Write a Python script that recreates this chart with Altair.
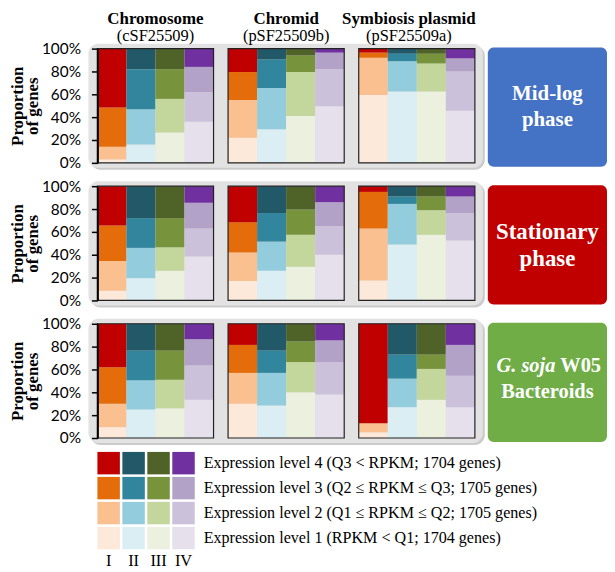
import altair as alt
import pandas as pd

SERIF = "Liberation Serif"
SANS = "Lato"

replicons = ["Chromosome", "Chromid", "Symbiosis plasmid"]
replicon_ids = ["(cSF25509)", "(pSF25509b)", "(pSF25509a)"]
categories = ["I", "II", "III", "IV"]
levels = [1, 2, 3, 4]

# Percent of genes at expression level [1, 2, 3, 4] for categories I, II, III, IV
midlog_chromosome = [[3, 11, 34.5, 51.5], [16, 31, 35, 18], [26.5, 29.5, 26, 18], [36, 26, 22, 16]]
midlog_chromid = [[22, 33, 24.5, 20.5], [29.5, 36, 25, 9.5], [41, 38.5, 14.5, 6], [49.5, 32.5, 14.5, 3.5]]
midlog_symbiosis = [[59.5, 32.5, 4.5, 3.5], [62.5, 26.5, 6.5, 4.5], [62.5, 24.5, 8.5, 4.5], [45.5, 34.5, 11.5, 8.5]]

stationary_chromosome = [[8.5, 26, 31, 34.5], [19.5, 26.5, 26, 28], [26, 20.5, 25.5, 28], [38.5, 24.5, 22.5, 14.5]]
stationary_chromid = [[17, 25, 26.5, 31.5], [26, 25.5, 25, 23.5], [29.5, 28, 22, 20.5], [40, 25, 21, 14]]
stationary_symbiosis = [[17.5, 45.5, 32, 5], [49, 35.5, 6.5, 9], [57.5, 21.5, 12, 9], [52.5, 24, 14.5, 9]]

bacteroid_chromosome = [[9.5, 20.5, 32, 38], [25, 25.5, 26, 23.5], [26, 25, 25.5, 23.5], [33.5, 30, 23, 13.5]]
bacteroid_chromid = [[30, 27, 24.5, 18.5], [28.5, 28.5, 19.5, 23.5], [40, 26.5, 18, 15.5], [38, 28.5, 19, 14.5]]
bacteroid_symbiosis = [[5, 8, 0, 87], [27, 25, 21, 27], [33.5, 27, 12.5, 27], [27, 27.5, 27, 18.5]]

conditions = [
    [midlog_chromosome, midlog_chromid, midlog_symbiosis],
    [stationary_chromosome, stationary_chromid, stationary_symbiosis],
    [bacteroid_chromosome, bacteroid_chromid, bacteroid_symbiosis],
]

palette = {
    "I": ["#FDE9D9", "#FAC090", "#E46C0A", "#C00000"],
    "II": ["#DBEEF4", "#93CDDD", "#31859C", "#215968"],
    "III": ["#EBF1DE", "#C3D69B", "#77933C", "#4F6228"],
    "IV": ["#E6E0EC", "#CCC1DA", "#B3A2C7", "#7030A0"],
}
color_keys = [f"{c}{l}" for c in categories for l in levels]
color_range = [palette[c][l - 1] for c in categories for l in levels]
color_scale = alt.Scale(domain=color_keys, range=color_range)

box_colors = ["#4472C4", "#C00000", "#70AD47"]

legend_labels = [
    "Expression level 1 (RPKM < Q1; 1704 genes)",
    "Expression level 2 (Q1 \u2264 RPKM \u2264  Q2; 1705 genes)",
    "Expression level 3 (Q2 \u2264 RPKM \u2264 Q3; 1705 genes)",
    "Expression level 4 (Q3 < RPKM; 1704 genes)",
]
y_ticks = [0, 0.2, 0.4, 0.6, 0.8, 1.0]

W, H = 380, 115
STEP = 4.5  # 4 bars + half-bar gap per panel
NSLOT = 3 * 4 + 2 * 0.5
ROW_GAP = 23.5
LEG = 98
LEG_SHIFT = -9.5  # legend sits closer to the last row than the row gap

xscale = alt.Scale(domain=[0, NSLOT], nice=False, zero=False)
yscale = alt.Scale(domain=[0, 1], nice=False)
one = pd.DataFrame({"a": [0]})

yaxis = alt.Axis(
    values=y_ticks, format=".0%", labelFont=SANS, labelFontSize=15.5, labelColor="black",
    labelOverlap=False, labelBound=False, labelFlush=False, tickColor="black", tickSize=6,
    tickWidth=1.5, domainColor="black", domainWidth=2, labelPadding=11, grid=False,
    title=["Proportion", "of genes"], titleFont=SERIF, titleFontSize=17,
    titleFontWeight="bold", titleColor="black", titleLineHeight=15, titlePadding=0, zindex=1,
)


def row_chart(ci, header=False):
    recs = []
    for ri, rep_vals in enumerate(conditions[ci]):
        for k, cat in enumerate(categories):
            for li, lev in enumerate(levels):
                recs.append(dict(rep=ri, cat=k, level=lev, value=rep_vals[k][li], key=f"{cat}{lev}"))
    df = pd.DataFrame(recs)

    shadow = alt.Chart(one).mark_rect(cornerRadius=10, color="#CBCBCB").encode(
        x=alt.value(-7), x2=alt.value(W + 10), y=alt.value(-3), y2=alt.value(H + 7))
    bg = alt.Chart(one).mark_rect(cornerRadius=10, color="#E2E2E2").encode(
        x=alt.value(-9), x2=alt.value(W + 8), y=alt.value(-5), y2=alt.value(H + 5))

    bars = (
        alt.Chart(df)
        .transform_joinaggregate(total="sum(value)", groupby=["rep", "cat"])
        .transform_calculate(frac="datum.value / datum.total")
        .transform_window(cum="sum(frac)", sort=[alt.SortField("level", "ascending")], groupby=["rep", "cat"])
        .transform_calculate(y0="datum.cum - datum.frac")
        .transform_calculate(y1="datum.cum")
        .transform_calculate(x0=f"datum.rep * {STEP} + datum.cat")
        .transform_calculate(x1=f"datum.rep * {STEP} + datum.cat + 1")
        .mark_rect()
        .encode(
            x=alt.X("x0:Q", scale=xscale, axis=None),
            x2="x1:Q",
            y=alt.Y("y0:Q", scale=yscale, axis=yaxis),
            y2="y1:Q",
            color=alt.Color("key:N", scale=color_scale, legend=None),
        )
    )

    frames = (
        alt.Chart(pd.DataFrame({"rep": [0, 1, 2]}))
        .transform_calculate(x0=f"datum.rep * {STEP}")
        .transform_calculate(x1=f"datum.rep * {STEP} + 4")
        .transform_calculate(y0="0")
        .transform_calculate(y1="1")
        .mark_rect(fillOpacity=0, stroke="#222222", strokeWidth=1.2)
        .encode(x=alt.X("x0:Q", scale=xscale, axis=None), x2="x1:Q",
                y=alt.Y("y0:Q", scale=yscale, axis=yaxis), y2="y1:Q")
    )

    box = alt.Chart(one).mark_rect(cornerRadius=6, color=box_colors[ci]).encode(
        x=alt.value(W + 13), x2=alt.value(W + 133), y=alt.value(-1), y2=alt.value(H + 4))

    cx = W + 73
    layers = [shadow, bg, bars, frames, box]
    if ci == 0:
        txt = dict(font=SERIF, fontSize=21, fontWeight="bold", color="white")
        layers += [
            alt.Chart(one).mark_text(**txt).encode(x=alt.value(cx), y=alt.value(46), text=alt.value("Mid-log")),
            alt.Chart(one).mark_text(**txt).encode(x=alt.value(cx), y=alt.value(72), text=alt.value("phase")),
        ]
    elif ci == 1:
        txt = dict(font=SERIF, fontSize=23, fontWeight="bold", color="white")
        layers += [
            alt.Chart(one).mark_text(**txt).encode(x=alt.value(cx), y=alt.value(46), text=alt.value("Stationary")),
            alt.Chart(one).mark_text(**txt).encode(x=alt.value(cx), y=alt.value(73), text=alt.value("phase")),
        ]
    else:
        txt = dict(font=SERIF, fontSize=20.5, fontWeight="bold", color="white")
        layers += [
            alt.Chart(one).mark_text(align="right", fontStyle="italic", **txt).encode(
                x=alt.value(cx + 8), y=alt.value(43), text=alt.value("G. soja")),
            alt.Chart(one).mark_text(align="left", **txt).encode(
                x=alt.value(cx + 13), y=alt.value(43), text=alt.value("W05")),
            alt.Chart(one).mark_text(**txt).encode(x=alt.value(cx), y=alt.value(69), text=alt.value("Bacteroids")),
        ]

    if header:
        hdf = pd.DataFrame({"rep": [0, 1, 2], "name": replicons, "code": replicon_ids})
        hbase = alt.Chart(hdf).transform_calculate(xc=f"datum.rep * {STEP} + 2")
        for sel, dx in (("datum.rep < 2", 0), ("datum.rep == 2", -8)):
            hb = hbase.transform_filter(sel)
            layers += [
                hb.mark_text(font=SERIF, fontSize=17, fontWeight="bold", color="black", dx=dx).encode(
                    x=alt.X("xc:Q", scale=xscale, axis=None), y=alt.value(-30), text="name:N"),
                hb.mark_text(font=SERIF, fontSize=16.5, color="black", dx=dx).encode(
                    x=alt.X("xc:Q", scale=xscale, axis=None), y=alt.value(-12.5), text="code:N"),
            ]

    return alt.layer(*layers).properties(width=W, height=H)


# legend block: 4 x 4 colour grid with level descriptions and category numerals
leg_df = pd.DataFrame([dict(cat=c, level=l, key=f"{c}{l}") for c in categories for l in levels])
leg_x = alt.X("cat:N", sort=categories, scale=alt.Scale(paddingInner=0.1, paddingOuter=0), axis=None)
leg_y = alt.Y("level:O", sort="descending", scale=alt.Scale(paddingInner=0.1, paddingOuter=0), axis=None)
leg_rect = alt.Chart(leg_df).mark_rect(yOffset=LEG_SHIFT).encode(
    x=leg_x, y=leg_y, color=alt.Color("key:N", scale=color_scale, legend=None))
leg_text = alt.Chart(pd.DataFrame({"level": levels, "label": legend_labels})).mark_text(
    align="left", font=SERIF, fontSize=16.2, color="black", yOffset=LEG_SHIFT).encode(
    x=alt.value(107), y=leg_y, text="label:N")
leg_num = alt.Chart(pd.DataFrame({"cat": categories})).mark_text(
    font=SERIF, fontSize=16.5, color="black", baseline="middle").encode(
    x=leg_x, y=alt.value(LEG + 12 + LEG_SHIFT), text="cat:N")
legend = alt.layer(leg_rect, leg_text, leg_num).properties(width=LEG, height=LEG)

chart = (
    alt.vconcat(row_chart(0, header=True), row_chart(1), row_chart(2), legend,
                spacing=ROW_GAP, bounds="flush")
    .resolve_scale(x="independent", y="independent", color="independent")
    .configure_view(stroke=None)
    .properties(padding=0, background="white")
)

chart.save("out.html", embed_options={"renderer": "svg", "actions": False})
